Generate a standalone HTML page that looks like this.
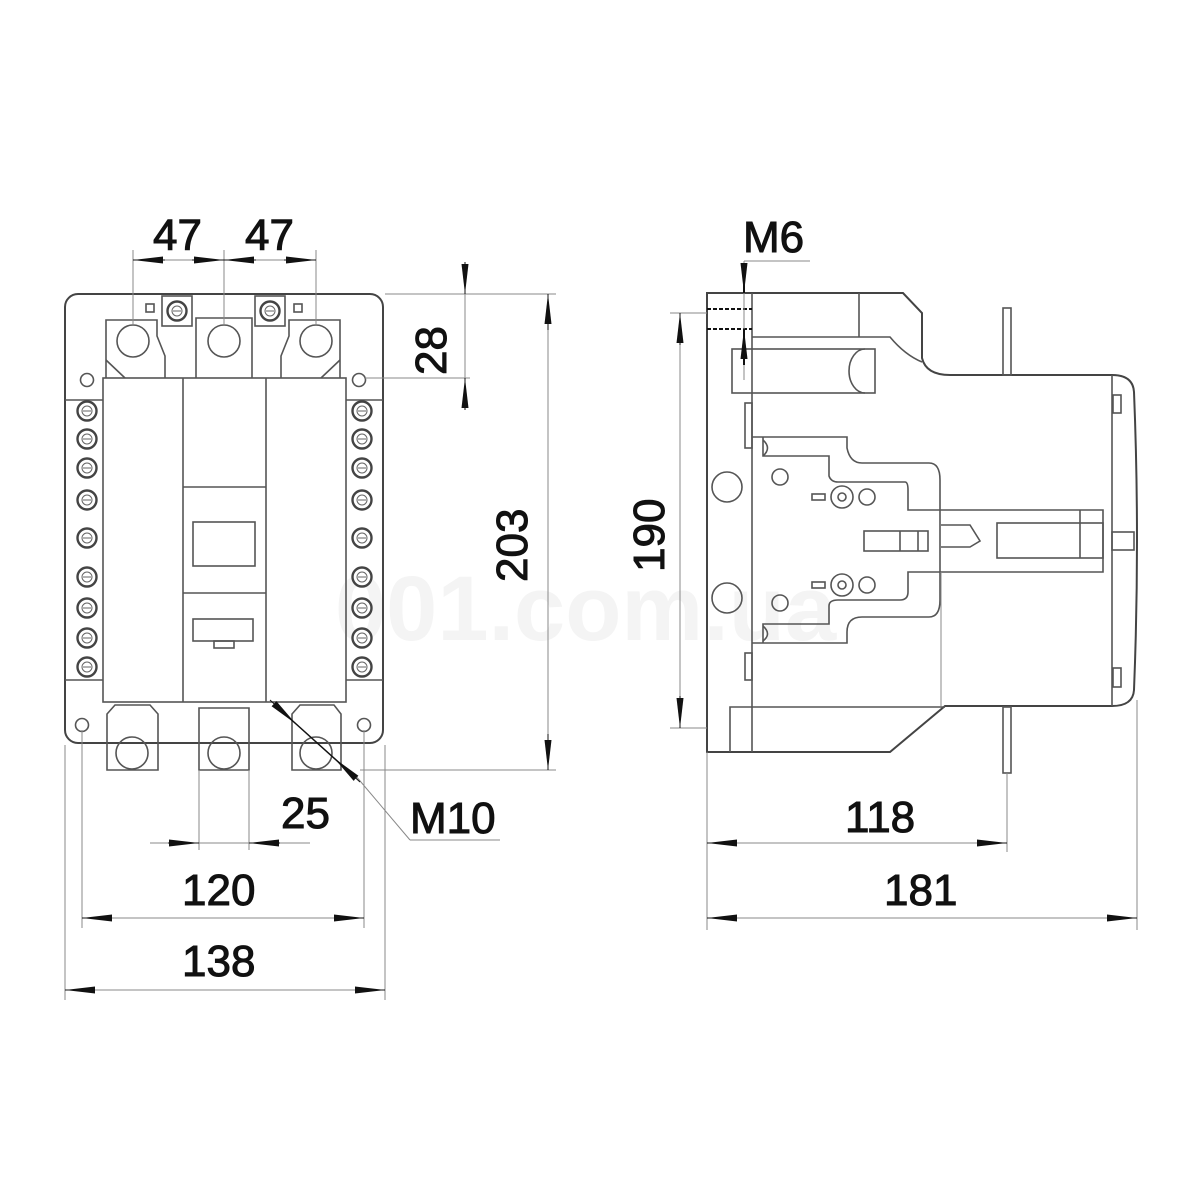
<!DOCTYPE html>
<html><head><meta charset="utf-8"><style>
html,body{margin:0;padding:0;background:#fff;}
svg{display:block}
text{font-family:"Liberation Sans",sans-serif;font-size:44px;fill:#111;stroke:#111;stroke-width:1}
</style></head><body>
<svg width="1200" height="1200" viewBox="0 0 1200 1200" xmlns="http://www.w3.org/2000/svg">
<defs>
<marker id="a" viewBox="0 0 30 10" refX="30" refY="5" markerWidth="30" markerHeight="10" markerUnits="userSpaceOnUse" orient="auto"><path d="M0,1.5 L30,5 L0,8.5 z" fill="#111"/></marker>
<g id="scr"><circle r="9.5" fill="#fff" stroke="#444" stroke-width="2.4"/><circle r="5" fill="none" stroke="#666" stroke-width="1"/><line x1="-4" y1="0" x2="4" y2="0" stroke="#666" stroke-width="1"/></g>
</defs>
<text x="335" y="640" style="font-size:92px;fill:#f4f4f4;stroke:none;font-weight:bold">001.com.ua</text>

<g fill="none" stroke="#555" stroke-width="1.6">
<rect x="65" y="294" width="318" height="449" rx="13" stroke="#444" stroke-width="2"/>
<path d="M106,378 V320 H157 V336 L165,356 V378"/>
<path d="M196,378 V318 H252 V378"/>
<path d="M340,378 V320 H289 V336 L281,356 V378"/>
<path d="M106,360 L125,378 M340,360 L321,378"/>
<circle cx="133" cy="341" r="16"/><circle cx="224" cy="341" r="16"/><circle cx="316" cy="341" r="16"/>
<rect x="162" y="296" width="30" height="30"/><rect x="255" y="296" width="30" height="30"/>
<rect x="146" y="304" width="8" height="8"/><rect x="294" y="304" width="8" height="8"/>
<rect x="103" y="378" width="243" height="324"/>
<line x1="183" y1="378" x2="183" y2="702"/><line x1="266" y1="378" x2="266" y2="702"/>
<line x1="183" y1="487" x2="266" y2="487"/><line x1="183" y1="593" x2="266" y2="593"/>
<rect x="193" y="522" width="62" height="44"/>
<rect x="193" y="619" width="60" height="22"/><rect x="214" y="641" width="20" height="7"/>
<line x1="65" y1="400" x2="103" y2="400"/><line x1="65" y1="680" x2="103" y2="680"/>
<line x1="346" y1="400" x2="383" y2="400"/><line x1="346" y1="680" x2="383" y2="680"/>
<circle cx="87" cy="380" r="6.5"/><circle cx="359" cy="380" r="6.5"/>
<circle cx="82" cy="725" r="6.5"/><circle cx="364" cy="725" r="6.5"/>
<path d="M107,770 V714 L115,705 H150 L158,714 V770 Z"/>
<path d="M199,770 V708 H249 V770 Z"/>
<path d="M292,770 V714 L300,705 H334 L341,714 V770 Z"/>
<circle cx="132" cy="753" r="16"/><circle cx="224" cy="753" r="16"/><circle cx="316" cy="753" r="16"/>
<g stroke="#888" stroke-width="1">
<line x1="133" y1="250" x2="133" y2="325"/><line x1="224" y1="250" x2="224" y2="325"/><line x1="316" y1="250" x2="316" y2="325"/>
<line x1="385" y1="294" x2="556" y2="294"/><line x1="365" y1="378" x2="470" y2="378"/><line x1="360" y1="770" x2="556" y2="770"/>
<line x1="65" y1="745" x2="65" y2="1000"/><line x1="385" y1="745" x2="385" y2="1000"/>
<line x1="82" y1="730" x2="82" y2="928"/><line x1="364" y1="730" x2="364" y2="928"/>
<line x1="199" y1="770" x2="199" y2="850"/><line x1="249" y1="770" x2="249" y2="850"/>
<line x1="133" y1="260" x2="316" y2="260"/>
<line x1="465" y1="270" x2="465" y2="410"/>
<line x1="548" y1="294" x2="548" y2="770"/>
<line x1="150" y1="843" x2="310" y2="843"/>
<line x1="82" y1="918" x2="364" y2="918"/><line x1="65" y1="990" x2="385" y2="990"/>
<line x1="355" y1="775" x2="410" y2="840"/><line x1="410" y1="840" x2="500" y2="840"/>
</g>
</g>
<use href="#scr" x="177" y="311"/><use href="#scr" x="270" y="311"/>
<g>
<use href="#scr" x="87" y="411"/><use href="#scr" x="87" y="439"/><use href="#scr" x="87" y="468"/><use href="#scr" x="87" y="500"/><use href="#scr" x="87" y="538"/><use href="#scr" x="87" y="577"/><use href="#scr" x="87" y="608"/><use href="#scr" x="87" y="638"/><use href="#scr" x="87" y="667"/>
<use href="#scr" x="362" y="411"/><use href="#scr" x="362" y="439"/><use href="#scr" x="362" y="468"/><use href="#scr" x="362" y="500"/><use href="#scr" x="362" y="538"/><use href="#scr" x="362" y="577"/><use href="#scr" x="362" y="608"/><use href="#scr" x="362" y="638"/><use href="#scr" x="362" y="667"/>
</g>
<g stroke="#111" stroke-width="1" fill="none">
<line x1="165" y1="260" x2="133" y2="260" marker-end="url(#a)"/><line x1="192" y1="260" x2="224" y2="260" marker-end="url(#a)"/>
<line x1="256" y1="260" x2="224" y2="260" marker-end="url(#a)"/><line x1="284" y1="260" x2="316" y2="260" marker-end="url(#a)"/>
<line x1="465" y1="262" x2="465" y2="294" marker-end="url(#a)"/><line x1="465" y1="410" x2="465" y2="378" marker-end="url(#a)"/>
<line x1="548" y1="330" x2="548" y2="294" marker-end="url(#a)"/><line x1="548" y1="734" x2="548" y2="770" marker-end="url(#a)"/>
<line x1="168" y1="843" x2="199" y2="843" marker-end="url(#a)"/><line x1="280" y1="843" x2="249" y2="843" marker-end="url(#a)"/>
<line x1="112" y1="918" x2="82" y2="918" marker-end="url(#a)"/><line x1="334" y1="918" x2="364" y2="918" marker-end="url(#a)"/>
<line x1="95" y1="990" x2="65" y2="990" marker-end="url(#a)"/><line x1="355" y1="990" x2="385" y2="990" marker-end="url(#a)"/>
<line x1="275" y1="705" x2="355" y2="777" stroke-width="1.5"/>
<line x1="270" y1="700" x2="296" y2="724" marker-end="url(#a)"/><line x1="360" y1="782" x2="334" y2="758" marker-end="url(#a)"/>
</g>

<g fill="none" stroke="#555" stroke-width="1.6">
<path d="M707,293 H903 L922,313 V358 Q926,375 950,375 H1112 Q1133,375 1134,392 Q1140,540 1134,690 Q1133,706 1112,706 H945 L890,752 H707 Z" stroke="#444" stroke-width="2"/>
<line x1="752" y1="293" x2="752" y2="752"/>
<path d="M752,337 H890 Q905,355 922,362"/>
<line x1="859" y1="293" x2="859" y2="337"/>
<rect x="732" y="349" width="143" height="44"/>
<path d="M865,349 A16,22 0 0 0 865,393"/>
<path d="M730,752 V707 H945"/>
<line x1="1112" y1="375" x2="1112" y2="706"/>
<rect x="1003" y="308" width="8" height="67"/><rect x="1003" y="707" width="8" height="66"/>
<rect x="745" y="403" width="7" height="45"/><rect x="745" y="653" width="7" height="27"/>
<rect x="1113" y="395" width="8" height="18"/><rect x="1113" y="668" width="8" height="19"/>
<rect x="1112" y="532" width="22" height="18"/>
<path d="M752,437 H847 V448 Q850,463 862,463 H929 Q940,463 940,480 V600 Q940,617 929,617 H862 Q847,617 847,632 V643 H752"/>
<path d="M763,437 V456 H829 V476 Q831,482 838,482 H905 Q908,482 908,490 V510 H1103 V572 H908 V592 Q908,600 900,600 H838 Q829,600 829,606 V624 H763 V643"/>
<path d="M763,440 Q772,448 763,456 M763,626 Q772,634 763,641"/>
<rect x="997" y="523" width="106" height="35"/><line x1="1080" y1="510" x2="1080" y2="558"/>
<path d="M941,525 H970 L980,541 L970,547 H941"/>
<rect x="864" y="531" width="64" height="20"/><line x1="900" y1="531" x2="900" y2="551"/><line x1="918" y1="531" x2="918" y2="551"/>
<circle cx="727" cy="487" r="15"/><circle cx="727" cy="598" r="15"/>
<circle cx="780" cy="477" r="8"/><circle cx="780" cy="603" r="8"/>
<circle cx="842" cy="497" r="11"/><circle cx="842" cy="497" r="4"/><circle cx="842" cy="585" r="11"/><circle cx="842" cy="585" r="4"/>
<circle cx="867" cy="497" r="8"/><circle cx="867" cy="585" r="8"/>
<rect x="812" y="494" width="13" height="6"/><rect x="812" y="582" width="13" height="6"/>
<line x1="707" y1="309" x2="752" y2="309" stroke="#111" stroke-width="2" stroke-dasharray="4,2"/>
<line x1="707" y1="329" x2="752" y2="329" stroke="#111" stroke-width="2" stroke-dasharray="4,2"/>
<g stroke="#888" stroke-width="1">
<line x1="744" y1="261" x2="810" y2="261"/><line x1="744" y1="261" x2="744" y2="380"/>
<line x1="670" y1="313" x2="707" y2="313"/><line x1="670" y1="728" x2="707" y2="728"/>
<line x1="680" y1="313" x2="680" y2="728"/>
<line x1="707" y1="752" x2="707" y2="930"/><line x1="1007" y1="773" x2="1007" y2="852"/><line x1="1137" y1="700" x2="1137" y2="930"/>
<line x1="941" y1="572" x2="941" y2="706"/>
<line x1="707" y1="843" x2="1007" y2="843"/><line x1="707" y1="918" x2="1137" y2="918"/>
</g>
</g>
<g stroke="#111" stroke-width="1" fill="none">
<line x1="744" y1="268" x2="744" y2="293" marker-end="url(#a)" stroke-width="2"/>
<line x1="744" y1="365" x2="744" y2="329" marker-end="url(#a)" stroke-width="2"/>
<line x1="680" y1="345" x2="680" y2="313" marker-end="url(#a)"/><line x1="680" y1="696" x2="680" y2="728" marker-end="url(#a)"/>
<line x1="737" y1="843" x2="707" y2="843" marker-end="url(#a)"/><line x1="977" y1="843" x2="1007" y2="843" marker-end="url(#a)"/>
<line x1="737" y1="918" x2="707" y2="918" marker-end="url(#a)"/><line x1="1107" y1="918" x2="1137" y2="918" marker-end="url(#a)"/>
</g>

<text x="153" y="250">47</text>
<text x="245" y="250">47</text>
<text x="0" y="0" transform="translate(446,375) rotate(-90)">28</text>
<text x="0" y="0" transform="translate(527,582) rotate(-90)">203</text>
<text x="281" y="828">25</text>
<text x="410" y="833">M10</text>
<text x="182" y="905">120</text>
<text x="182" y="976">138</text>
<text x="743" y="252">M6</text>
<text x="0" y="0" transform="translate(664,572) rotate(-90)">190</text>
<text x="845" y="832">118</text>
<text x="884" y="905">181</text>
</svg>
</body></html>
